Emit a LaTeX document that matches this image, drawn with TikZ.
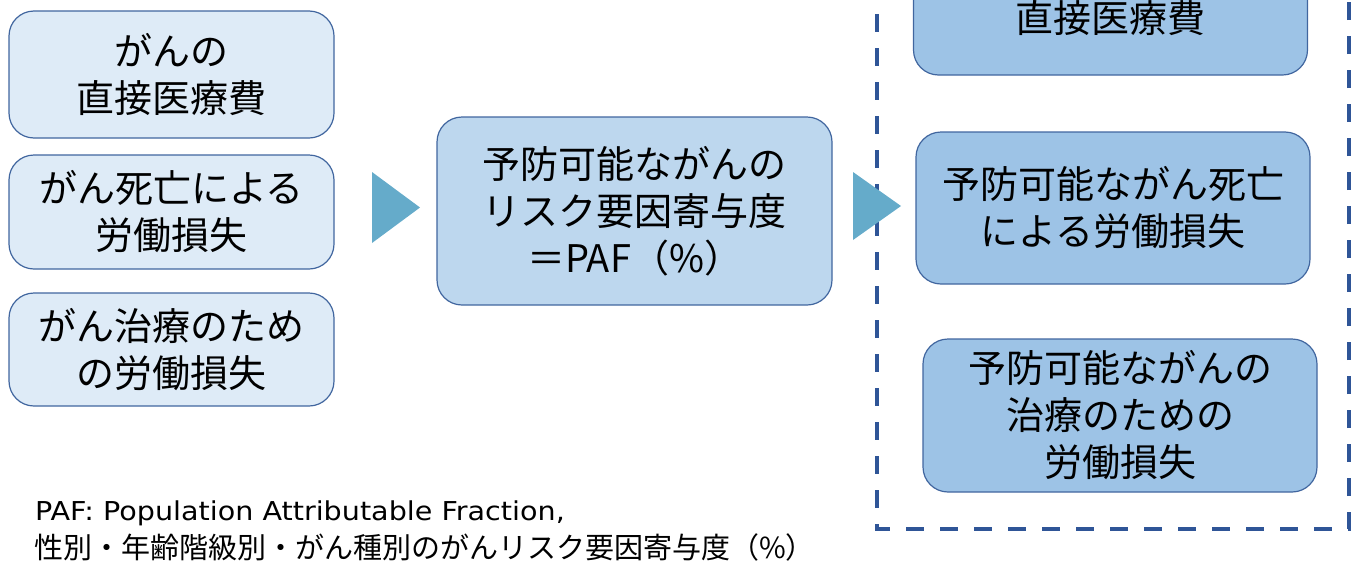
\documentclass[tikz,border=0pt]{standalone}
\usepackage{fontspec}
\setmainfont{Noto Sans CJK JP}
\newfontfamily\latinfont{DejaVu Sans}
\definecolor{lfill}{HTML}{DEEBF7}
\definecolor{cfill}{HTML}{BDD7EE}
\definecolor{rfill}{HTML}{9DC3E6}
\definecolor{bord}{HTML}{41669F}
\definecolor{dashc}{HTML}{2F5597}
\definecolor{arrc}{HTML}{65ABCA}
\tikzset{
  box/.style={draw=bord, line width=1.2pt, rounded corners=25pt, inner sep=0pt, align=center,
    font=\fontsize{38}{47}\selectfont},
  lbox/.style={box, fill=lfill, minimum width=325pt},
  cbox/.style={box, fill=cfill, minimum width=395pt, minimum height=188pt},
  rbox/.style={box, fill=rfill, minimum width=394pt},
  txt/.style={align=center, inner sep=0pt, font=\fontsize{38}{47}\selectfont},
  dborder/.style={draw=dashc, line width=4pt, dash pattern=on 18pt off 16pt},
  tri/.style={fill=arrc},
  note/.style={inner sep=0pt, anchor=west}
}
\begin{document}
\begin{tikzpicture}[x=1pt,y=-1pt]
\useasboundingbox (0,0) rectangle (1362,560);
% left boxes
\node[lbox, minimum height=127pt] (l1) at (171.5,74.5) {がんの\\直接医療費};
\node[lbox, minimum height=114pt] (l2) at (171.5,212) {がん死亡による\\労働損失};
\node[lbox, minimum height=113pt] (l3) at (171.5,349.5) {がん治療のため\\の労働損失};
% center box
\node[cbox] (c) at (634.5,211) {予防可能ながんの\\リスク要因寄与度\\＝PAF（\%）};
% dashed border
\coordinate (dtl) at (877,-20);
\coordinate (dbl) at (877,529);
\coordinate (dbr) at (1349,529);
\coordinate (dtr) at (1349,-20);
\draw[dborder] (dtl) -- (dbl) -- (dbr) -- (dtr);
% right boxes
\node[rbox, minimum height=170pt] (r1) at (1110.5,-10) {};
\node[txt] (r1t) at (1110.5,18) {直接医療費};
\node[rbox, minimum height=152pt] (r2) at (1113,208) {予防可能ながん死亡\\による労働損失};
\node[rbox, minimum height=153pt] (r3) at (1120,415.5) {予防可能ながんの\\治療のための\\労働損失};
% arrows
\fill[tri] (372,172) -- (420,207.5) -- (372,243) -- cycle;
\fill[tri] (853,172) -- (901,206) -- (853,240) -- cycle;
% note
\node[note, font=\latinfont\fontsize{26}{30}\selectfont] (n1) at (35,513) {\scalebox{1.1}[1]{PAF: Population Attributable Fraction,}};
\node[note, font=\fontsize{29}{34}\selectfont] (n2) at (34,547) {性別・年齢階級別・がん種別のがんリスク要因寄与度（\%）};
\end{tikzpicture}
\end{document}
